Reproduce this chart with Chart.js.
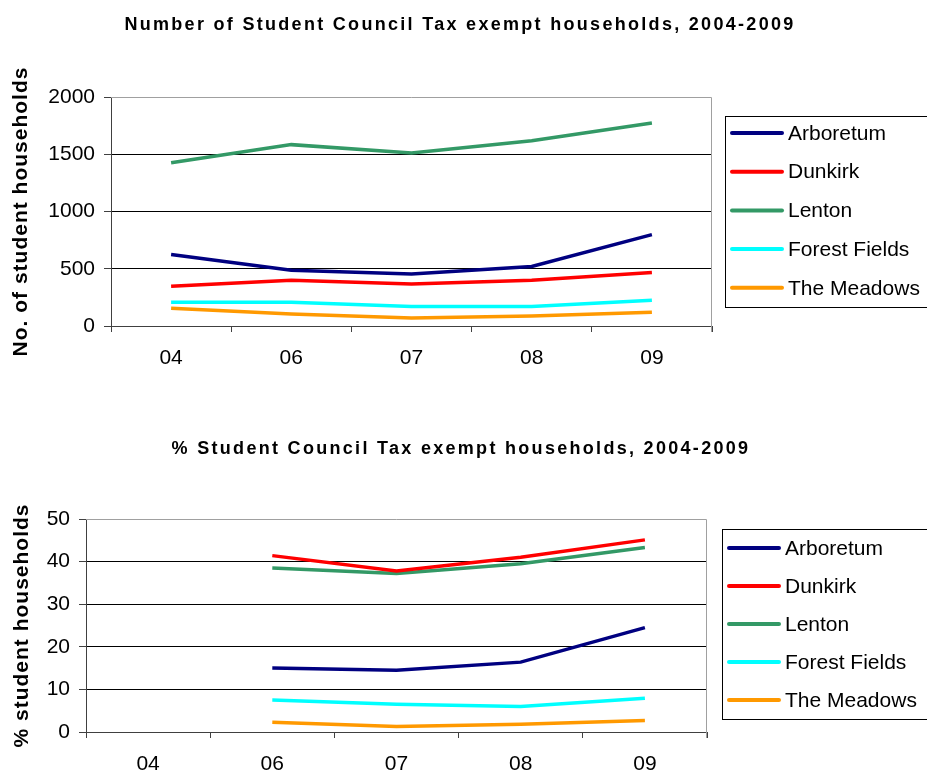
<!DOCTYPE html>
<html>
<head>
<meta charset="utf-8">
<script src="https://cdn.jsdelivr.net/npm/chart.js@4.4.1/dist/chart.umd.min.js"></script>
<style>
  html, body { margin: 0; padding: 0; background: #fff; }
  .box { position: absolute; left: 0; width: 927px; }
  #top { top: 0; height: 390px; }
  #bottom { top: 390px; height: 382px; }
</style>
</head>
<body>
<div class="box" id="top"><canvas id="countChart"></canvas></div>
<div class="box" id="bottom"><canvas id="pctChart"></canvas></div>
<script>
const years = ['04', '06', '07', '08', '09'];
const wards = ['Arboretum', 'Dunkirk', 'Lenton', 'Forest Fields', 'The Meadows'];
const colours = ['#000080', '#ff0000', '#339966', '#00ffff', '#ff9900'];

// number of exempt households
const arboretumCount = [624, 486, 454, 520, 798];
const dunkirkCount = [347, 399, 367, 399, 468];
const lentonCount = [1425, 1584, 1512, 1618, 1772];
const forestFieldsCount = [208, 208, 171, 171, 225];
const meadowsCount = [156, 104, 69, 87, 121];

// % of households (no 2004 figures)
const arboretumPct = [null, 15.0, 14.5, 16.4, 24.5];
const dunkirkPct = [null, 41.4, 37.8, 41.0, 45.1];
const lentonPct = [null, 38.5, 37.2, 39.5, 43.3];
const forestFieldsPct = [null, 7.5, 6.5, 6.0, 7.9];
const meadowsPct = [null, 2.3, 1.3, 1.8, 2.7];

const FONT = '"Liberation Sans", Arial, sans-serif';

// titles, plot frame and boxed legend drawn the Excel way
const decor = {
  id: 'decor',
  beforeDatasetsDraw(chart, args, opts) {
    const {ctx, chartArea: a} = chart;
    ctx.save();
    ctx.strokeStyle = '#a0a0a0';
    ctx.lineWidth = 1;
    ctx.beginPath();
    ctx.moveTo(a.left, a.top + 0.5);
    ctx.lineTo(a.right - 0.5, a.top + 0.5);
    ctx.lineTo(a.right - 0.5, a.bottom + 6);
    ctx.stroke();
    ctx.restore();
  },
  afterDraw(chart, args, opts) {
    const {ctx, chartArea: a} = chart;
    ctx.save();
    ctx.fillStyle = '#000';
    ctx.textBaseline = 'middle';
    ctx.textAlign = 'center';
    ctx.font = `bold 18px ${FONT}`;
    ctx.letterSpacing = '2.3px';
    ctx.fillText(opts.title, opts.titleX, opts.titleY);

    ctx.font = `bold 21px ${FONT}`;
    ctx.letterSpacing = '1px';
    ctx.translate(opts.yTitleX, (a.top + a.bottom) / 2);
    ctx.rotate(-Math.PI / 2);
    ctx.fillText(opts.yTitle, 0, 0);
    ctx.restore();

    const lg = opts.legend;
    ctx.save();
    ctx.strokeStyle = '#000';
    ctx.lineWidth = 1;
    ctx.strokeRect(lg.x + 0.5, lg.y + 0.5, lg.w, lg.h);
    ctx.font = `21px ${FONT}`;
    ctx.textBaseline = 'middle';
    ctx.textAlign = 'left';
    chart.data.datasets.forEach((ds, i) => {
      const y = lg.row0 + i * lg.gap;
      ctx.strokeStyle = ds.borderColor;
      ctx.lineWidth = 4;
      ctx.lineCap = 'round';
      ctx.beginPath();
      ctx.moveTo(lg.x + 7, y);
      ctx.lineTo(lg.x + 57, y);
      ctx.stroke();
      ctx.fillStyle = '#000';
      ctx.fillText(ds.label, lg.x + 63, y + 1);
    });
    ctx.restore();
  }
};

function makeChart(id, series, cfg) {
  return new Chart(document.getElementById(id), {
    type: 'line',
    data: {
      labels: years,
      datasets: series.map((values, i) => ({
        label: wards[i],
        data: values,
        borderColor: colours[i],
        backgroundColor: colours[i],
        borderWidth: 3.5,
        pointRadius: 0,
        tension: 0,
        fill: false
      }))
    },
    options: {
      responsive: true,
      maintainAspectRatio: false,
      animation: false,
      layout: {padding: {top: cfg.top, right: cfg.right, left: 0, bottom: 0}},
      plugins: {
        legend: {display: false},
        title: {display: false},
        tooltip: {enabled: false},
        decor: cfg.decor
      },
      scales: {
        x: {
          offset: true,
          afterFit(scale) { scale.height = cfg.xHeight; },
          border: {color: '#404040', width: 1},
          grid: {drawOnChartArea: false, offset: true, tickLength: 6, color: '#404040'},
          ticks: {color: '#000', font: {family: FONT, size: 21}, padding: 14, maxRotation: 0}
        },
        y: {
          min: 0,
          max: cfg.max,
          afterFit(scale) { scale.width = cfg.yWidth; },
          border: {color: '#404040', width: 1},
          grid: {
            tickLength: 7,
            tickColor: '#404040',
            color: c => (c.tick.value === 0 || c.tick.value === cfg.max) ? 'rgba(0,0,0,0)' : '#000'
          },
          ticks: {
            stepSize: cfg.step,
            color: '#000',
            font: {family: FONT, size: 21},
            padding: 9,
            callback: v => String(v)
          }
        }
      }
    },
    plugins: [decor]
  });
}

makeChart('countChart',
  [arboretumCount, dunkirkCount, lentonCount, forestFieldsCount, meadowsCount],
  {
    top: 97, right: 215, xHeight: 64, yWidth: 111, max: 2000, step: 500,
    decor: {
      title: 'Number of Student Council Tax exempt households, 2004-2009',
      titleX: 460, titleY: 25,
      yTitle: 'No. of student households', yTitleX: 21,
      legend: {x: 725, y: 116, w: 230, h: 191, row0: 133, gap: 38.7}
    }
  });

makeChart('pctChart',
  [arboretumPct, dunkirkPct, lentonPct, forestFieldsPct, meadowsPct],
  {
    top: 129, right: 220, xHeight: 40, yWidth: 86, max: 50, step: 10,
    decor: {
      title: '% Student Council Tax exempt households, 2004-2009',
      titleX: 461, titleY: 59,
      yTitle: '% student households', yTitleX: 22,
      legend: {x: 722, y: 139, w: 230, h: 190, row0: 158, gap: 38}
    }
  });
</script>
</body>
</html>
